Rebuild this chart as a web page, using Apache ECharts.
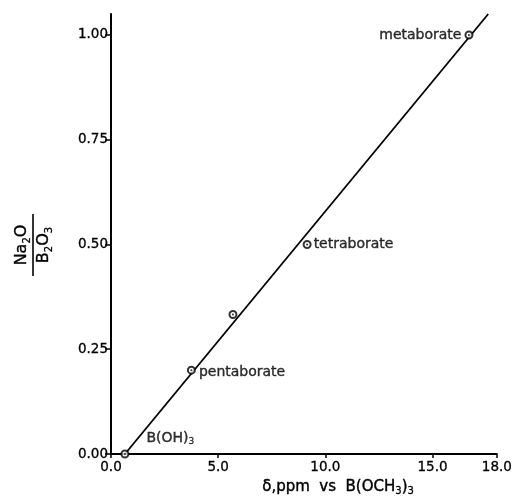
<!DOCTYPE html>
<html><head><meta charset="utf-8">
<script src="https://cdn.jsdelivr.net/npm/echarts@6/dist/echarts.min.js"></script>
<style>html,body{margin:0;padding:0;background:#fff}#c{width:515px;height:504px}</style>
</head><body><div id="c"></div>
<script>
// ---- data ----
const pointNames = ['B(OH)3', 'pentaborate', '', 'tetraborate', 'metaborate'];
const shiftPpm   = [0.65, 3.75, 5.69, 9.15, 16.7];
const ratio      = [0.0, 0.20, 0.333, 0.50, 1.00];
const fitX       = [0.65, 17.6];
const fitY       = [0.0, 1.05];
const xTicks     = [0, 5, 10, 15, 18];
const yTicks     = [0, 0.25, 0.5, 0.75, 1.0];

const FONT = 'DejaVu Sans';
const labelPlace = {
  'B(OH)3': {position: 'right', offset: [12, -16]},
  'pentaborate': {position: 'right', offset: [-2, 2]},
  'tetraborate': {position: 'right', offset: [-3, 0]},
  'metaborate': {position: 'left', offset: [2, 0]}
};
// rich styles for series labels (ECharts label props)
function mkRich(size) {
  return {
    a: {fontFamily: FONT, fontSize: size, color: '#000', textBorderColor: '#000', textBorderWidth: 0.4},
    s: {fontFamily: FONT, fontSize: Math.round(size * 0.65), color: '#000', textBorderColor: '#000',
      textBorderWidth: 0.3, verticalAlign: 'bottom', padding: [Math.round(size * 0.6), 0, 0, 0]}
  };
}
// rich styles for graphic text (zrender props)
function mkRichG(size) {
  return {
    a: {fontFamily: FONT, fontSize: size, fill: '#000', stroke: '#000', lineWidth: 0.4},
    s: {fontFamily: FONT, fontSize: Math.round(size * 0.65), fill: '#000', stroke: '#000',
      lineWidth: 0.3, verticalAlign: 'bottom', padding: [Math.round(size * 0.6), 0, 0, 0]}
  };
}
function fmtName(n) {
  if (n === 'B(OH)3') return '{a|B(OH)}{s|3}';
  return '{a|' + n + '}';
}

const pts = shiftPpm.map((x, i) => {
  const n = pointNames[i];
  const item = {value: [x, ratio[i]], name: n};
  if (n && labelPlace[n]) {
    item.label = Object.assign({show: true, formatter: fmtName(n), rich: mkRich(14)}, labelPlace[n]);
  }
  return item;
});
const dots = shiftPpm.map((x, i) => [x, ratio[i]]);
const fitLine = fitX.map((x, i) => [x, fitY[i]]);

const tickLabelStyle = {color: '#000', fontFamily: FONT, fontSize: 13.5,
  textBorderColor: '#000', textBorderWidth: 0.3};

const chart = echarts.init(document.getElementById('c'), null, {renderer: 'canvas'});
chart.setOption({
  backgroundColor: '#fff',
  animation: false,
  grid: {left: 111, right: 17, top: 14, bottom: 50, containLabel: false},
  xAxis: {
    type: 'value', min: 0, max: 18,
    axisLine: {show: true, onZero: false, lineStyle: {color: '#000', width: 2}},
    axisTick: {show: true, length: 4, lineStyle: {color: '#000', width: 1.5}, customValues: xTicks},
    axisLabel: Object.assign({customValues: xTicks, formatter: v => v.toFixed(1), margin: 6}, tickLabelStyle),
    splitLine: {show: false}
  },
  yAxis: {
    type: 'value', min: 0, max: 1.05,
    axisLine: {show: true, onZero: false, lineStyle: {color: '#000', width: 2}},
    axisTick: {show: true, length: 6, lineStyle: {color: '#000', width: 1.5}, customValues: yTicks},
    axisLabel: Object.assign({customValues: yTicks, formatter: v => v.toFixed(2), margin: 3}, tickLabelStyle),
    splitLine: {show: false}
  },
  series: [
    {type: 'line', data: fitLine, showSymbol: false, symbol: 'none', clip: false,
      lineStyle: {color: '#000', width: 1.8}, z: 2},
    {type: 'scatter', data: pts, symbol: 'emptyCircle', symbolSize: 7, clip: false,
      itemStyle: {color: '#000', borderColor: '#000', borderWidth: 1.2}, z: 3},
    {type: 'scatter', data: dots, symbol: 'circle', symbolSize: 2, clip: false,
      itemStyle: {color: '#000'}, z: 4, silent: true}
  ],
  graphic: [
    {type: 'text', left: 262, top: 479,
      style: {text: '{a|δ,ppm  vs  B(OCH}{s|3}{a|)}{s|3}', rich: mkRichG(15)}},
    {type: 'group', x: 33, y: 245, rotation: Math.PI / 2,
      children: [
        {type: 'text', x: 0, y: -11, style: {text: '{a|Na}{s|2}{a|O}', rich: mkRichG(16),
          align: 'center', verticalAlign: 'middle'}},
        {type: 'line', shape: {x1: -31, y1: 0, x2: 31, y2: 0}, style: {stroke: '#000', lineWidth: 1.6}},
        {type: 'text', x: 0, y: 11, style: {text: '{a|B}{s|2}{a|O}{s|3}', rich: mkRichG(16),
          align: 'center', verticalAlign: 'middle'}}
      ]}
  ]
});
</script></body></html>
